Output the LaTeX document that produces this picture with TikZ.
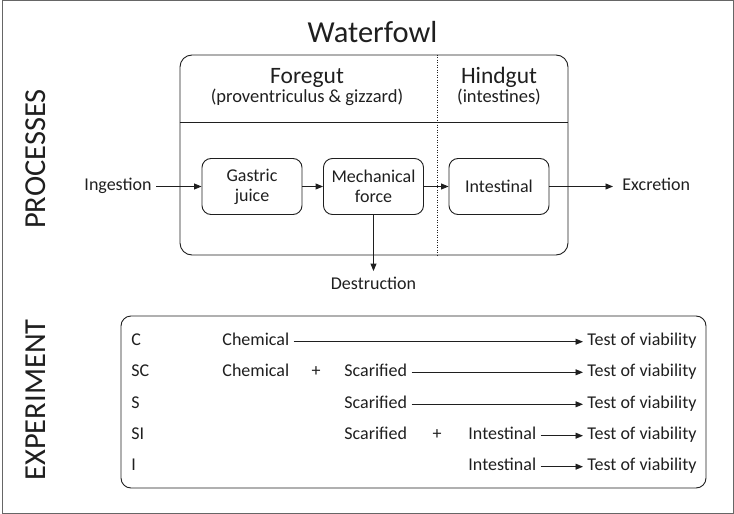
\documentclass[tikz,border=0pt]{standalone}
\usepackage{fontspec}
\setmainfont{Carlito}
\usetikzlibrary{arrows.meta}

\tikzset{
  lbl/.style={inner xsep=4pt, inner ysep=2pt, text height=12pt, text depth=4pt,
    font=\fontsize{18}{21}\selectfont},
  stage/.style={draw, rounded corners=9pt, minimum width=100pt, minimum height=56pt,
    align=center, font=\fontsize{18}{20}\selectfont},
  flow/.style={-{Triangle[length=7.5pt,width=6pt]}},
  bigtitle/.style={font=\fontsize{30.5}{36}\selectfont},
}

\begin{document}
\begin{tikzpicture}[x=1pt, y=-1pt, line width=0.9pt, color=black!88]
  \useasboundingbox (0,0) rectangle (734,514);
  % frame
  \draw[black!60, line width=1pt] (2.5,0.5) rectangle (733.5,513.5);

  % titles
  \node[bigtitle, anchor=base] (title) at (372.5,42.5) {Waterfowl};
  \node[bigtitle, rotate=90, anchor=base] (proc) at (45.5,159) {PROCESSES};
  \node[bigtitle, rotate=90, anchor=base] (expt) at (45.5,400) {EXPERIMENT};

  % gut box
  \node[draw, rounded corners=12pt, minimum width=388pt, minimum height=200pt] (gut) at (374,155) {};
  \coordinate (split) at (437,122);
  \draw (gut.west |- split) -- (gut.east |- split);
  \draw[line width=0.8pt, dash pattern=on 1pt off 1.5pt] (split |- gut.north) -- (split |- gut.south);

  \node[font=\fontsize{23.5}{28}\selectfont, anchor=base] (fore) at (307,83.5) {Foregut};
  \node[font=\fontsize{18.5}{22}\selectfont, anchor=base] (foresub) at (307,102.5) {(proventriculus \& gizzard)};
  \node[font=\fontsize{23.5}{28}\selectfont, anchor=base] (hind) at (499,83.5) {Hindgut};
  \node[font=\fontsize{18.5}{22}\selectfont, anchor=base] (hindsub) at (499,102.5) {(intestines)};

  % processes
  \node[stage] (gastric) at (252,186.5) {Gastric\\juice};
  \node[stage] (mech) at (373.5,186.5) {Mechanical\\force};
  \node[stage] (intest) at (499,186.5) {Intestinal};
  \node[lbl, anchor=base east] (ingest) at (156,190.5) {Ingestion};
  \node[lbl, anchor=base west] (excr) at (618,190.5) {Excretion};
  \node[lbl, anchor=base] (destr) at (373.5,289.5) {Destruction};

  \draw[flow] (ingest) -- (gastric);
  \draw[flow] (gastric) -- (mech);
  \draw[flow] (mech) -- (intest);
  \draw[flow, shorten >=5pt] (intest) -- (excr);
  \draw[flow, shorten >=4pt] (mech) -- (destr);

  % experiment
  \node[draw, rounded corners=10pt, minimum width=585pt, minimum height=172pt] (expbox) at (413.5,402) {};

  \foreach \r/\t/\y in {c/C/345.7, sc/SC/376.3, s/S/408.3, si/SI/439.7, i/I/470.7} {
    \node[lbl, anchor=base west] (\r) at (127,\y) {\t};
    \node[lbl, anchor=base west] (\r-test) at (583,\y) {Test of viability};
  }

  \node[lbl, anchor=base west] (c-chem) at (218,345.7) {Chemical};
  \node[lbl, anchor=base west] (sc-chem) at (218,376.3) {Chemical};
  \node[lbl, anchor=base] (sc-plus) at (316,376.3) {+};
  \node[lbl, anchor=base west] (sc-scar) at (340,376.3) {Scarified};
  \node[lbl, anchor=base west] (s-scar) at (340,408.3) {Scarified};
  \node[lbl, anchor=base west] (si-scar) at (340,439.7) {Scarified};
  \node[lbl, anchor=base] (si-plus) at (437,439.7) {+};
  \node[lbl, anchor=base west] (si-int) at (464,439.7) {Intestinal};
  \node[lbl, anchor=base west] (i-int) at (464,470.7) {Intestinal};

  \draw[flow] (c-chem) -- (c-test);
  \draw[flow] (sc-scar) -- (sc-test);
  \draw[flow] (s-scar) -- (s-test);
  \draw[flow] (si-int) -- (si-test);
  \draw[flow] (i-int) -- (i-test);
\end{tikzpicture}
\end{document}
